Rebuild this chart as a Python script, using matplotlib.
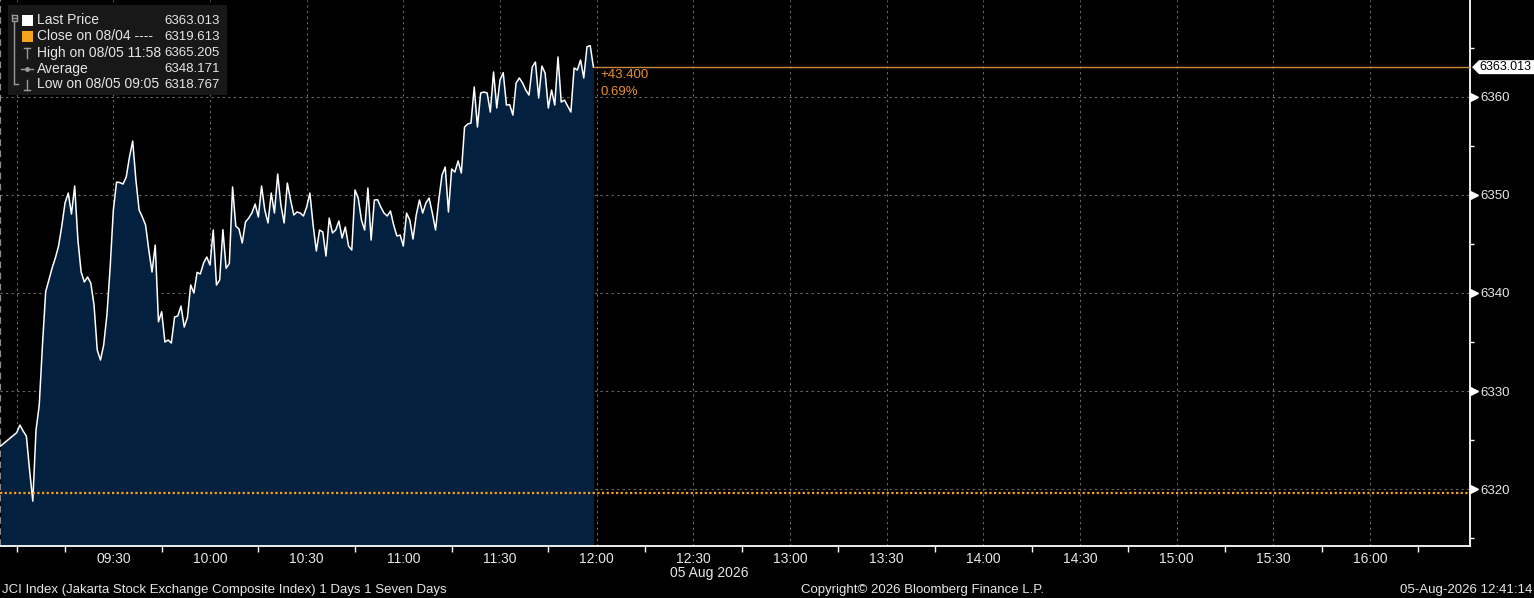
import matplotlib
matplotlib.use("Agg")
import matplotlib.pyplot as plt
import matplotlib.dates as mdates
import matplotlib.transforms as mtransforms
from matplotlib.patches import Polygon, Rectangle
from matplotlib.lines import Line2D
from datetime import datetime, timedelta

plt.rcParams['font.family'] = ['Liberation Sans', 'DejaVu Sans']

# ---------------- data ----------------
session_date = "2026-08-05"
preopen_time = "08:55"
open_time = "09:00"
preopen_value = 6324.39
# one value per minute from 09:00 to 11:59
minute_values = [
    6325.75, 6326.53, 6325.92, 6325.41, 6321.95, 6318.77, 6326.02, 6328.57, 6334.69, 6340.12,
    6341.31, 6342.54, 6343.56, 6344.78, 6346.82, 6349.16, 6350.18, 6348.04, 6350.90, 6345.39,
    6342.13, 6341.11, 6341.62, 6341.00, 6338.77, 6334.18, 6333.16, 6334.69, 6337.75, 6342.54,
    6348.45, 6351.30, 6351.25, 6351.10, 6351.81, 6353.85, 6355.48, 6351.51, 6348.45, 6347.74,
    6346.92, 6344.37, 6342.13, 6344.88, 6337.06, 6338.08, 6334.99, 6335.20, 6334.89, 6337.54,
    6337.65, 6338.66, 6336.52, 6337.50, 6340.81, 6339.99, 6342.10, 6341.93, 6343.05, 6343.66,
    6342.84, 6346.41, 6340.80, 6341.31, 6346.45, 6342.50, 6343.00, 6350.80, 6346.82, 6346.51,
    6345.09, 6347.23, 6347.63, 6348.14, 6349.06, 6347.74, 6350.90, 6348.45, 6347.13, 6350.18,
    6348.14, 6352.12, 6348.96, 6347.13, 6351.20, 6349.47, 6347.94, 6348.25, 6348.14, 6347.84,
    6348.76, 6350.18, 6346.92, 6344.27, 6346.41, 6346.21, 6343.76, 6347.63, 6346.11, 6346.41,
    6347.33, 6345.60, 6346.72, 6344.78, 6344.37, 6350.49, 6349.67, 6347.43, 6346.41, 6350.69,
    6345.39, 6349.47, 6349.50, 6348.76, 6348.14, 6347.84, 6348.35, 6346.92, 6345.80, 6345.90,
    6344.78, 6348.14, 6347.43, 6345.49, 6347.94, 6349.47, 6348.14, 6349.16, 6349.67, 6348.14,
    6346.41, 6349.47, 6352.02, 6352.83, 6348.25, 6352.63, 6352.32, 6353.45, 6352.22, 6356.91,
    6357.22, 6357.32, 6360.99, 6356.91, 6360.38, 6360.48, 6360.38, 6358.44, 6362.52, 6358.85,
    6361.70, 6362.45, 6359.15, 6359.20, 6358.13, 6361.40, 6361.91, 6361.40, 6360.68, 6360.17,
    6363.03, 6363.54, 6359.87, 6363.13, 6362.42, 6358.85, 6360.68, 6359.15, 6364.05, 6359.46,
    6359.66, 6359.05, 6358.44, 6362.93, 6362.72, 6363.74, 6361.91, 6365.10, 6365.21, 6363.013,
]

prev_close = 6319.613
last_price = 6363.013
change_text = "+43.400"
change_pct_text = "0.69%"

legend_labels = ["Last Price", "Close on 08/04 ----", "High on 08/05 11:58",
                 "Average", "Low on 08/05 09:05"]
legend_values = ["6363.013", "6319.613", "6365.205", "6348.171", "6318.767"]

y_major = [6320, 6330, 6340, 6350, 6360]
y_minor = [6315, 6325, 6335, 6345, 6355, 6365]
x_label_times = ["09:30", "10:00", "10:30", "11:00", "11:30", "12:00", "12:30", "13:00",
                 "13:30", "14:00", "14:30", "15:00", "15:30", "16:00"]
x_grid_times = ["09:00"] + x_label_times
x_tick_times = ["09:00", "09:15", "09:45", "10:15", "10:45", "11:15", "11:45", "12:15",
                "12:45", "13:15", "13:45", "14:15", "14:45", "15:15", "15:45", "16:15"]

title_text = "JCI Index (Jakarta Stock Exchange Composite Index) 1 Days 1 Seven Days"
copyright_text = "Copyright\u00a9 2026 Bloomberg Finance L.P."
stamp_text = "05-Aug-2026 12:41:14"
date_text = "05 Aug 2026"

# ---------------- styles ----------------
W, H = 1534, 598
BG = "black"
FILL = "#03203f"
TXT = "#e6e6e6"
ORANGE_DOT = "#f5a31f"
ORANGE_LINE = "#c98a40"
ORANGE_TXT = "#e8922e"
GRID = "#6a6a6a"


def ts(hhmm):
    return datetime.strptime(f"{session_date} {hhmm}", "%Y-%m-%d %H:%M")


times = [ts(preopen_time)] + [ts(open_time) + timedelta(minutes=i) for i in range(len(minute_values))]
values = [preopen_value] + minute_values

fig = plt.figure(figsize=(W / 100, H / 100), dpi=100, facecolor=BG)
ax = fig.add_axes([0, 52 / H, 1470 / W, 546 / H])
ax.set_facecolor(BG)

x0 = ts("09:00") - timedelta(minutes=5.18)
x1 = ts("16:00") + timedelta(minutes=31.05)
ax.set_xlim(x0, x1)
ax.set_ylim(6314.20, 6369.86)
ybot = ax.get_ylim()[0]

# grid
for t in x_grid_times:
    ax.axvline(ts(t), color=GRID, lw=0.8, ls=(0, (2, 3)), zorder=1)
for yv in y_major:
    ax.axhline(yv, color=GRID, lw=0.8, ls=(0, (2, 3)), zorder=1)
ax.axvline(x0, color="#8c8c8c", lw=1.6, ls=(0, (3, 2)), zorder=1)

# area + line
ax.fill_between(times, values, ybot, color=FILL, lw=0, zorder=2)
ax.plot(times, values, color="white", lw=1.1, zorder=4)

# previous close dotted line
ax.axhline(prev_close, color=ORANGE_DOT, lw=1.6, ls=(0, (1, 1.1)), zorder=5)
# last price line
ax.hlines(last_price, times[-1], x1, color=ORANGE_LINE, lw=1.0, zorder=5)
ax.annotate(change_text, xy=(times[-1], last_price), xytext=(7, -8),
            textcoords="offset pixels", color=ORANGE_TXT, fontsize=9.5, va="center", ha="left")
ax.annotate(change_pct_text, xy=(times[-1], last_price), xytext=(7, -25),
            textcoords="offset pixels", color=ORANGE_TXT, fontsize=9.5, va="center", ha="left")

# spines
for s in ["top", "left"]:
    ax.spines[s].set_visible(False)
for s in ["right", "bottom"]:
    ax.spines[s].set_color("white")
    ax.spines[s].set_linewidth(1.3)

# x axis
ax.set_xticks([mdates.date2num(ts(t)) for t in x_label_times])
ax.set_xticklabels(x_label_times)
ax.set_xticks([mdates.date2num(ts(t)) for t in x_tick_times], minor=True)
ax.tick_params(axis="x", which="major", length=0, pad=4, colors=TXT, labelsize=10)
ax.tick_params(axis="x", which="minor", length=4, width=1, color="white", direction="out")

# y axis
ax.yaxis.tick_right()
ax.set_yticks(y_major)
ax.set_yticklabels([str(v) for v in y_major])
ax.set_yticks(y_minor, minor=True)
ax.tick_params(axis="y", which="major", length=0, pad=7.5, colors=TXT, labelsize=9.5)
ax.tick_params(axis="y", which="minor", length=3, width=1, color="white", direction="out")
ax.tick_params(axis="y", which="minor", labelright=False)

blend = mtransforms.blended_transform_factory(ax.transAxes, ax.transData)
ax.plot([1.0 + 4 / 1470] * len(y_major), y_major, transform=blend, ls="none", marker=">",
        ms=5.5, color="white", clip_on=False, zorder=6)

# last price tag
hh = 7 / 9.81
tag = Polygon([(1.0 + 2 / 1470, last_price), (1.0 + 9 / 1470, last_price + hh),
               (1.05, last_price + hh), (1.05, last_price - hh),
               (1.0 + 9 / 1470, last_price - hh)], closed=True, transform=blend,
              facecolor="white", edgecolor="none", clip_on=False, zorder=7)
ax.add_patch(tag)
ax.text(1.0 + 9 / 1470, last_price, f"{last_price:.3f}", transform=blend, color="black",
        fontsize=9, va="center", ha="left", clip_on=False, zorder=8)


# ---------------- figure-level texts ----------------
def P(x, y):
    return (x / W, 1 - y / H)


fig.text(*P(2, 590), title_text, color=TXT, fontsize=9.5, ha="left", va="center")
fig.text(*P(923, 590), copyright_text, color=TXT, fontsize=9.5, ha="center", va="center")
fig.text(*P(1532, 590), stamp_text, color=TXT, fontsize=9.5, ha="right", va="center")
fig.text(*P(709, 573), date_text, color=TXT, fontsize=10, ha="center", va="center")

# legend box
lx, ly = P(8, 95)
fig.add_artist(Rectangle((lx, ly), 219 / W, 90 / H, transform=fig.transFigure,
                         facecolor="#181818", edgecolor="none", zorder=10))
row_y = [20.5 + 16 * i for i in range(len(legend_labels))]
for i, (lab, val) in enumerate(zip(legend_labels, legend_values)):
    fig.text(*P(37, row_y[i]), lab, color=TXT, fontsize=10, ha="left", va="center", zorder=12)
    fig.text(*P(220, row_y[i]), val, color=TXT, fontsize=9.5, ha="right", va="center", zorder=12)

ICON = "#9a9a9a"


def fline(xs, ys, color=ICON, lw=1.0):
    pts = [P(x, y) for x, y in zip(xs, ys)]
    fig.add_artist(Line2D([p[0] for p in pts], [p[1] for p in pts], transform=fig.transFigure,
                          color=color, lw=lw, zorder=11))


# squares
for i, col in [(0, "white"), (1, ORANGE_DOT)]:
    sx, sy = P(22, row_y[i] + 5.5)
    fig.add_artist(Rectangle((sx, sy), 11 / W, 11 / H, transform=fig.transFigure,
                             facecolor=col, edgecolor="none", zorder=11))
# tree icon
fline([11.5, 16.5, 16.5, 11.5, 11.5], [15, 15, 20.5, 20.5, 15])
fline([12.5, 15.5], [17.75, 17.75])
fline([14, 14], [20.5, 84])
fline([14, 18], [84, 84])
# high icon (T)
fline([24, 30], [row_y[2] - 5, row_y[2] - 5])
fline([27, 27], [row_y[2] - 5, row_y[2] + 5])
# average icon
fline([21, 33], [row_y[3], row_y[3]])
ax_pt = P(27, row_y[3])
fig.add_artist(Line2D([ax_pt[0]], [ax_pt[1]], transform=fig.transFigure,
                      ls="none", marker="o", ms=2.5, color=ICON, zorder=11))
# low icon (inverted T)
fline([24, 30], [row_y[4] + 5, row_y[4] + 5])
fline([27, 27], [row_y[4] - 5, row_y[4] + 5])

fig.savefig("out.png", dpi=100, facecolor=BG)
